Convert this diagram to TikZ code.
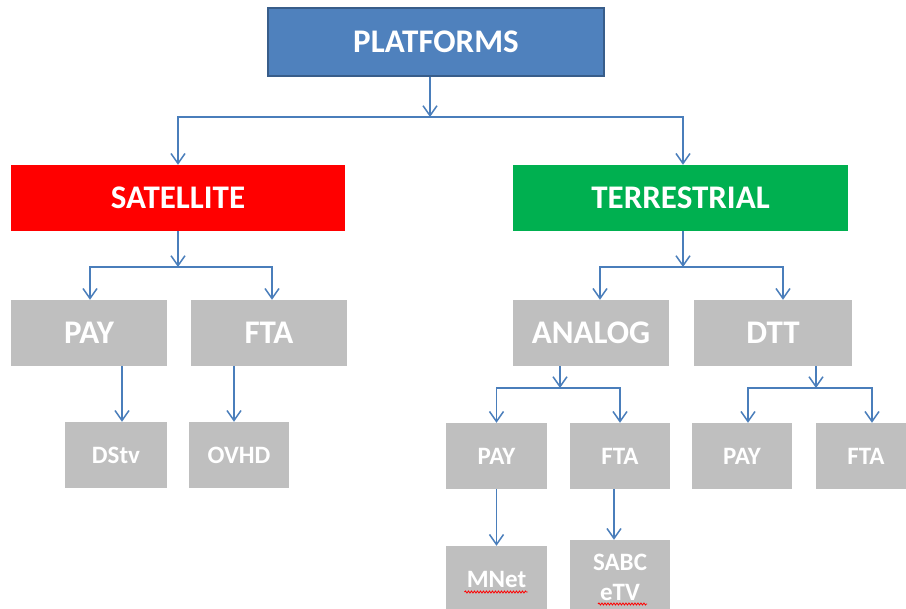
\documentclass[tikz,border=0pt]{standalone}
\usepackage{fontspec}
\setmainfont{Carlito}
\usetikzlibrary{arrows.meta,decorations.pathmorphing}
\definecolor{platblue}{HTML}{4F81BD}
\definecolor{platedge}{HTML}{385D8A}
\definecolor{satred}{HTML}{FF0000}
\definecolor{tergreen}{HTML}{00B050}
\definecolor{boxgray}{HTML}{BFBFBF}
\definecolor{conn}{HTML}{4A7EBB}
\begin{document}
\begin{tikzpicture}[x=1pt,y=-1pt,
 box/.style={rectangle, inner sep=0pt, text=white, font=\bfseries\fontsize{33}{39}\selectfont},
 midbox/.style={box, fill=boxgray, minimum width=156pt, minimum height=66pt},
 smallbox/.style={box, fill=boxgray, minimum width=100pt, minimum height=66pt, align=center, font=\bfseries\fontsize{25}{34}\selectfont},
 arr/.style={draw=conn, line width=1.5pt, -{Straight Barb[length=10pt,width=14pt]}},
 spell/.style={draw=red, line width=0.8pt, decorate, decoration={snake, amplitude=1pt, segment length=3pt}}
]
\useasboundingbox (0,0) rectangle (906,609);
% top level
\node[box, fill=platblue, draw=platedge, line width=1.5pt, minimum width=336pt, minimum height=68pt] (plat) at (436,42) {PLATFORMS};
% second level
\node[box, fill=satred, minimum width=334pt, minimum height=66pt] (sat) at (178,198) {SATELLITE};
\node[box, fill=tergreen, minimum width=335pt, minimum height=66pt] (ter) at (680.5,198) {TERRESTRIAL};
% third level
\node[midbox] (spay) at (89,333) {PAY};
\node[midbox] (sfta) at (269,333) {FTA};
\node[midbox] (ana) at (591,333) {ANALOG};
\node[midbox, minimum width=158pt] (dtt) at (773,333) {DTT};
% fourth level
\node[smallbox, minimum width=102pt] (dstv) at (116,455) {DStv};
\node[smallbox] (ovhd) at (239,455) {OVHD};
\node[smallbox, minimum width=101pt] (apay) at (496.5,456) {PAY};
\node[smallbox] (afta) at (620,456) {FTA};
\node[smallbox] (dpay) at (742,456) {PAY};
\node[smallbox] (dfta) at (866,456) {FTA};
% fifth level
\node[smallbox, minimum width=101pt] (mnet) at (496.5,579) {MNet};
\node[smallbox, minimum height=74pt, font=\bfseries\fontsize{25}{30}\selectfont] (sabc) at (620,577) {SABC\\eTV};
% spelling underlines
\draw[spell] ([xshift=-32pt,yshift=-13pt]mnet.center) -- ([xshift=31pt,yshift=-13pt]mnet.center);
\draw[spell] ([xshift=-22pt,yshift=-27pt]sabc.center) -- ([xshift=27pt,yshift=-27pt]sabc.center);
% connectors
\coordinate (j0) at (430,117);
\draw[arr] (plat.south -| j0) -- (j0);
\draw[arr] (j0) -| (sat.north);
\draw[arr] (j0) -| ([xshift=2.5pt]ter.north);
\coordinate (j1) at (178,267);
\draw[arr] (sat.south) -- (j1);
\draw[arr] (j1) -| ([xshift=1pt]spay.north);
\draw[arr] (j1) -| ([xshift=3pt]sfta.north);
\coordinate (j2) at (683,267);
\draw[arr] (ter.south -| j2) -- (j2);
\draw[arr] (j2) -| ([xshift=9pt]ana.north);
\draw[arr] (j2) -| ([xshift=10pt]dtt.north);
\path ([xshift=6pt]dstv.north) coordinate (t1);
\draw[arr] (spay.south -| t1) -- (t1);
\path ([xshift=-5pt]ovhd.north) coordinate (t2);
\draw[arr] (sfta.south -| t2) -- (t2);
\coordinate (j3) at (560,388);
\draw[arr] (ana.south -| j3) -- (j3);
\draw[arr] (j3) -| (apay.north);
\draw[arr] (j3) -| (afta.north);
\coordinate (j4) at (816,388);
\draw[arr] (dtt.south -| j4) -- (j4);
\draw[arr] (j4) -| ([xshift=6pt]dpay.north);
\draw[arr] (j4) -| ([xshift=6pt]dfta.north);
\draw[arr] (apay.south) -- (mnet.north);
\path ([xshift=-6pt]sabc.north) coordinate (t3);
\draw[arr] (afta.south -| t3) -- (t3);
\end{tikzpicture}
\end{document}
